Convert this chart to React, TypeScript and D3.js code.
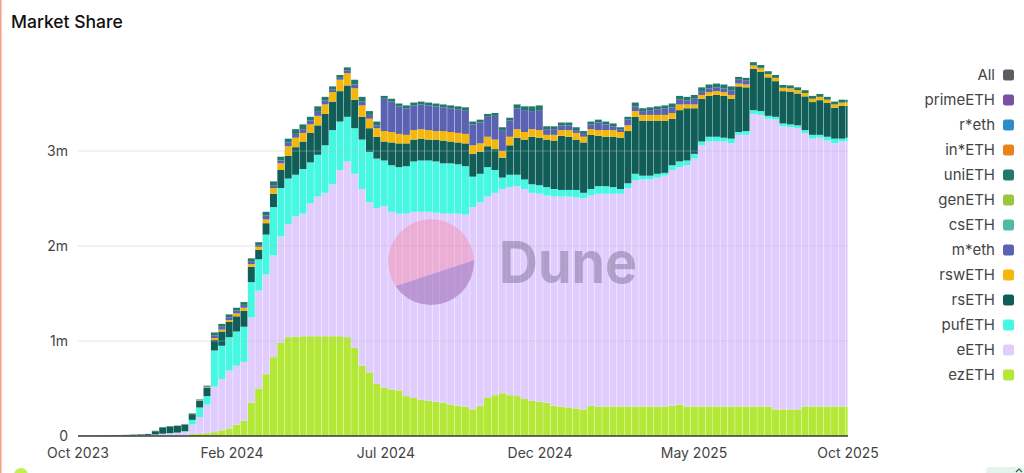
import * as d3 from "d3";

// weekly buckets, first one starts on this day
const FIRST_WEEK = "2023-10-05";
const X_DOMAIN = ["2023-10-05", "2025-10-04"];
const X_TICKS = ["2023-10-05", "2024-02-28", "2024-07-23", "2024-12-16", "2025-05-11", "2025-10-04"];
const Y_TICKS = [0, 1, 2, 3];

// values in millions of ETH, one per week
const ezEth = [
  0, 0, 0, 0, 0, 0, 0, 0, 0, 0,
  0, 0, 0, 0, 0.004, 0.02, 0.025, 0.03, 0.04, 0.06,
  0.08, 0.12, 0.16, 0.35, 0.5, 0.65, 0.83, 0.98, 1.04, 1.045,
  1.05, 1.05, 1.05, 1.05, 1.05, 1.05, 1.04, 0.93, 0.74, 0.67,
  0.55, 0.51, 0.49, 0.48, 0.42, 0.4, 0.38, 0.37, 0.36, 0.35,
  0.33, 0.32, 0.31, 0.28, 0.32, 0.4, 0.43, 0.45, 0.43, 0.42,
  0.39, 0.37, 0.36, 0.35, 0.32, 0.31, 0.3, 0.29, 0.28, 0.32,
  0.31, 0.31, 0.31, 0.31, 0.31, 0.31, 0.31, 0.31, 0.31, 0.31,
  0.32, 0.33, 0.31, 0.31, 0.31, 0.31, 0.31, 0.31, 0.31, 0.31,
  0.31, 0.31, 0.31, 0.31, 0.28, 0.28, 0.28, 0.28, 0.31, 0.31,
  0.31, 0.31, 0.31, 0.31, 0.31,
];

const eEth = [
  0.001, 0.001, 0.001, 0.002, 0.002, 0.003, 0.005, 0.006, 0.008, 0.01,
  0.015, 0.022, 0.027, 0.033, 0.041, 0.1, 0.175, 0.3, 0.48, 0.54,
  0.61, 0.62, 0.62, 0.9, 1.03, 1.05, 1.07, 1.12, 1.19, 1.265,
  1.29, 1.4, 1.47, 1.51, 1.6, 1.75, 1.85, 1.83, 1.86, 1.79,
  1.85, 1.91, 1.87, 1.86, 1.92, 1.96, 1.98, 1.99, 1.99, 1.99,
  2.01, 2.02, 2.02, 2.13, 2.14, 2.12, 2.13, 2.15, 2.19, 2.21,
  2.21, 2.19, 2.19, 2.18, 2.2, 2.21, 2.22, 2.22, 2.22, 2.21,
  2.24, 2.24, 2.24, 2.24, 2.3, 2.38, 2.39, 2.39, 2.41, 2.43,
  2.48, 2.5, 2.54, 2.61, 2.75, 2.79, 2.79, 2.79, 2.77, 2.86,
  2.86, 3.08, 3.07, 3.03, 3.05, 2.98, 2.97, 2.96, 2.88, 2.82,
  2.83, 2.8, 2.77, 2.79, 2.79,
];

const pufEth = [
  0, 0, 0, 0, 0, 0, 0, 0, 0, 0,
  0.001, 0.002, 0.003, 0.003, 0.005, 0.05, 0.1, 0.09, 0.38, 0.35,
  0.35, 0.36, 0.37, 0.37, 0.33, 0.42, 0.51, 0.51, 0.48, 0.44,
  0.47, 0.43, 0.44, 0.5, 0.57, 0.51, 0.47, 0.48, 0.52, 0.53,
  0.52, 0.48, 0.49, 0.49, 0.5, 0.53, 0.54, 0.54, 0.54, 0.53,
  0.53, 0.52, 0.51, 0.32, 0.3, 0.31, 0.24, 0.12, 0.13, 0.12,
  0.1, 0.09, 0.09, 0.09, 0.08, 0.07, 0.07, 0.08, 0.06, 0.07,
  0.08, 0.08, 0.07, 0.05, 0.05, 0.07, 0.04, 0.04, 0.04, 0.03,
  0.05, 0.06, 0.05, 0.05, 0.04, 0.05, 0.05, 0.04, 0.05, 0.03,
  0.04, 0.04, 0.04, 0.03, 0.03, 0.03, 0.03, 0.03, 0.03, 0.04,
  0.03, 0.04, 0.05, 0.03, 0.04,
];

const rsEth = [
  0.002, 0.002, 0.003, 0.003, 0.004, 0.005, 0.005, 0.007, 0.008, 0.01,
  0.034, 0.066, 0.07, 0.069, 0.07, 0.06, 0.07, 0.09, 0.11, 0.15,
  0.16, 0.16, 0.17, 0.16, 0.1, 0.12, 0.14, 0.19, 0.24, 0.29,
  0.29, 0.31, 0.31, 0.33, 0.3, 0.32, 0.33, 0.3, 0.24, 0.25,
  0.23, 0.2, 0.24, 0.25, 0.24, 0.23, 0.23, 0.22, 0.23, 0.24,
  0.23, 0.23, 0.24, 0.24, 0.23, 0.22, 0.22, 0.21, 0.31, 0.39,
  0.42, 0.5, 0.5, 0.5, 0.51, 0.57, 0.56, 0.53, 0.53, 0.57,
  0.53, 0.52, 0.53, 0.54, 0.55, 0.6, 0.58, 0.58, 0.56, 0.55,
  0.49, 0.54, 0.55, 0.48, 0.45, 0.43, 0.44, 0.44, 0.42, 0.48,
  0.46, 0.435, 0.415, 0.405, 0.375, 0.34, 0.345, 0.335, 0.355, 0.345,
  0.365, 0.355, 0.325, 0.345, 0.335,
];

const rswEth = [
  0, 0, 0, 0, 0, 0, 0, 0, 0, 0,
  0, 0, 0, 0, 0.002, 0.002, 0.005, 0.005, 0.02, 0.02,
  0.02, 0.03, 0.03, 0.03, 0.03, 0.04, 0.06, 0.07, 0.1, 0.1,
  0.09, 0.09, 0.1, 0.1, 0.1, 0.12, 0.13, 0.12, 0.12, 0.1,
  0.09, 0.11, 0.11, 0.1, 0.09, 0.1, 0.1, 0.1, 0.09, 0.1,
  0.1, 0.1, 0.1, 0.09, 0.09, 0.1, 0.1, 0.07, 0.09, 0.09,
  0.08, 0.08, 0.08, 0.05, 0.06, 0.06, 0.07, 0.07, 0.06, 0.06,
  0.06, 0.07, 0.07, 0.06, 0.06, 0.06, 0.06, 0.06, 0.06, 0.06,
  0.06, 0.06, 0.04, 0.04, 0.04, 0.04, 0.04, 0.04, 0.04, 0.03,
  0.03, 0.035, 0.035, 0.035, 0.035, 0.035, 0.035, 0.035, 0.035, 0.035,
  0.035, 0.035, 0.035, 0.035, 0.035,
];

const mEth = [
  0, 0, 0, 0, 0, 0, 0, 0, 0, 0,
  0.002, 0.002, 0.002, 0.002, 0.002, 0.004, 0.005, 0.005, 0.03, 0.03,
  0.03, 0.03, 0.03, 0.03, 0.02, 0.04, 0.03, 0.03, 0.04, 0.04,
  0.04, 0.04, 0.05, 0.04, 0.03, 0.02, 0.03, 0.04, 0.04, 0.04,
  0.03, 0.34, 0.32, 0.29, 0.28, 0.26, 0.26, 0.26, 0.26, 0.25,
  0.25, 0.25, 0.25, 0.22, 0.22, 0.21, 0.25, 0.22, 0.17, 0.22,
  0.23, 0.19, 0.21, 0.06, 0.06, 0.05, 0.05, 0.03, 0.03, 0.05,
  0.08, 0.06, 0.04, 0.03, 0.06, 0.05, 0.04, 0.05, 0.06, 0.07,
  0.06, 0.05, 0.04, 0.06, 0.04, 0.04, 0.04, 0.04, 0.05, 0.04,
  0.04, 0.005, 0.005, 0, 0, 0, 0, 0, 0, 0,
  0, 0, 0, 0, 0,
];

const uniEth = [
  0.001, 0.001, 0.001, 0.001, 0.001, 0.001, 0.002, 0.002, 0.002, 0.002,
  0.003, 0.003, 0.003, 0.003, 0.003, 0.004, 0.005, 0.01, 0.03, 0.03,
  0.03, 0.03, 0.03, 0.03, 0.03, 0.04, 0.04, 0.04, 0.04, 0.05,
  0.05, 0.04, 0.05, 0.04, 0.03, 0.03, 0.03, 0.05, 0.05, 0.04,
  0.04, 0.03, 0.03, 0.03, 0.03, 0.03, 0.03, 0.03, 0.03, 0.03,
  0.03, 0.03, 0.03, 0.03, 0.03, 0.03, 0.03, 0.03, 0.03, 0.04,
  0.04, 0.05, 0.05, 0.03, 0.03, 0.03, 0.03, 0.03, 0.03, 0.03,
  0.03, 0.03, 0.03, 0.02, 0.03, 0.04, 0.03, 0.03, 0.03, 0.03,
  0.04, 0.04, 0.04, 0.04, 0.04, 0.04, 0.04, 0.04, 0.04, 0.03,
  0.03, 0.03, 0.03, 0.03, 0.03, 0.03, 0.03, 0.03, 0.03, 0.03,
  0.03, 0.03, 0.03, 0.03, 0.03,
];

// too thin to show in the picture, read as zero
const csEth: number[] = [];
const genEth: number[] = [];
const inEth: number[] = [];
const rEth: number[] = [];
const primeEth: number[] = [];
const allEth: number[] = [];

// legend order, top to bottom (stack order is the reverse)
const SERIES = [
  { key: "All", color: "#5b5b60", values: allEth },
  { key: "primeETH", color: "#7b4fa3", values: primeEth },
  { key: "r*eth", color: "#2f8ccc", values: rEth },
  { key: "in*ETH", color: "#e8821a", values: inEth },
  { key: "uniETH", color: "#217a69", values: uniEth },
  { key: "genETH", color: "#9cc63e", values: genEth },
  { key: "csETH", color: "#4dbba2", values: csEth },
  { key: "m*eth", color: "#5b62b2", values: mEth },
  { key: "rswETH", color: "#f6b70b", values: rswEth },
  { key: "rsETH", color: "#115e58", values: rsEth },
  { key: "pufETH", color: "#46f7e2", values: pufEth },
  { key: "eETH", color: "#e1cdfd", values: eEth },
  { key: "ezETH", color: "#b3e836", values: ezEth },
];

const parse = d3.utcParse("%Y-%m-%d");
const fmtMonth = d3.utcFormat("%b %Y");

export default function App() {
  const width = 1024;
  const height = 473;
  const margin = { left: 78, right: 176, top: 56, bottom: 37 };
  const plotRight = width - margin.right;
  const plotBottom = height - margin.bottom;

  const x = d3
    .scaleUtc()
    .domain(X_DOMAIN.map((d) => parse(d) as Date))
    .range([margin.left, plotRight]);
  const y = d3.scaleLinear().domain([0, 4]).range([plotBottom, margin.top]);

  const start = parse(FIRST_WEEK) as Date;
  const weeks = ezEth.map((_, i) => d3.utcDay.offset(start, 7 * i));

  const stackOrder = [...SERIES].reverse();
  const keys = stackOrder.map((s) => s.key);
  const table = weeks.map((_, i) => {
    const row: { [k: string]: number } = {};
    stackOrder.forEach((s) => (row[s.key] = s.values[i] ?? 0));
    return row;
  });
  const stacked = d3.stack<{ [k: string]: number }>().keys(keys)(table);

  const barX = (i: number) => x(weeks[i]);
  const barW = (i: number) =>
    Math.max(0, Math.min(x(d3.utcDay.offset(weeks[i], 7)), plotRight) - x(weeks[i]) - 0.4);

  // Dune watermark
  const wmCx = 431;
  const wmCy = 262;
  const wmR = 43;

  return (
    <svg
      width={width}
      height={height}
      style={{ position: "absolute", left: 0, top: 0, background: "#fff" }}
      fontFamily="Inter, 'Noto Sans', sans-serif"
    >
      <rect width={width} height={height} fill="#fff" />
      <rect x={0} y={0} width={1.6} height={height} fill="#f4a48f" />

      <text x={11} y={28} fontSize={17.5} fontWeight={500} fill="#111">
        Market Share
      </text>

      {/* bars */}
      {stacked.map((layer) => {
        const color = SERIES.find((s) => s.key === layer.key)!.color;
        return (
          <g key={layer.key} fill={color}>
            {layer.map((d, i) => {
              const h = y(d[0]) - y(d[1]);
              if (h <= 0) return null;
              return <rect key={i} x={barX(i)} y={y(d[1])} width={barW(i)} height={h} />;
            })}
          </g>
        );
      })}

      {/* grid lines */}
      {Y_TICKS.filter((t) => t > 0).map((t) => (
        <line
          key={t}
          x1={margin.left}
          x2={plotRight}
          y1={y(t)}
          y2={y(t)}
          stroke="#bdbdbd"
          strokeOpacity={0.4}
        />
      ))}

      {/* watermark */}
      <defs>
        <clipPath id="wm-circle">
          <circle cx={wmCx} cy={wmCy} r={wmR} />
        </clipPath>
      </defs>
      <g clipPath="url(#wm-circle)">
        <circle cx={wmCx} cy={wmCy} r={wmR} fill="#ff6680" fillOpacity={0.3} />
        <polygon
          points={`${wmCx - 50},${wmCy + 29} ${wmCx + 50},${wmCy - 4} ${wmCx + 50},${wmCy + 50} ${wmCx - 50},${wmCy + 50}`}
          fill="#6f6fd0"
          fillOpacity={0.38}
        />
      </g>
      <text
        x={499}
        y={283}
        fontSize={58}
        fontWeight={700}
        fill="#4a3f60"
        fillOpacity={0.33}
        textLength={138}
        lengthAdjust="spacingAndGlyphs"
      >
        Dune
      </text>

      {/* baseline */}
      <line x1={margin.left} x2={plotRight} y1={y(0)} y2={y(0)} stroke="#3a3a3a" strokeWidth={1.5} />

      {/* y labels */}
      {Y_TICKS.map((t) => (
        <text key={t} x={68} y={y(t)} dy="0.35em" textAnchor="end" fontSize={14} fill="#444">
          {t === 0 ? "0" : `${t}m`}
        </text>
      ))}

      {/* x labels */}
      {X_TICKS.map((t) => (
        <text key={t} x={x(parse(t) as Date)} y={458} textAnchor="middle" fontSize={14} fill="#444">
          {fmtMonth(parse(t) as Date)}
        </text>
      ))}

      {/* legend */}
      {SERIES.map((s, k) => {
        const cy = 75 + 25 * k;
        return (
          <g key={s.key}>
            <text x={995} y={cy} dy="0.35em" textAnchor="end" fontSize={15} fill="#444">
              {s.key}
            </text>
            <rect x={1003} y={cy - 5.5} width={11} height={11} rx={2.5} fill={s.color} />
          </g>
        );
      })}

      {/* footer bits cut by the frame */}
      <circle cx={21} cy={475} r={7} fill="#c6f04e" />
      <rect x={986} y={467} width={38} height={14} rx={4} fill="#e4f4ec" />
      <path d="M1016,472 L1019,469 L1022,472" fill="none" stroke="#1f6b4a" strokeWidth={1.2} />
    </svg>
  );
}
